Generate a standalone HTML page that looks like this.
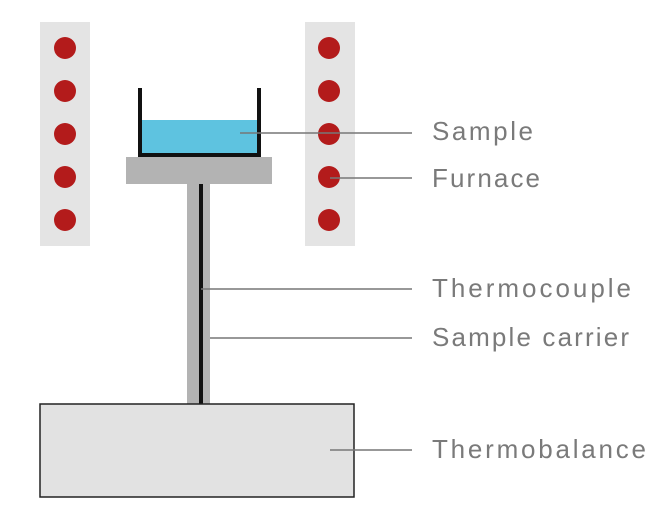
<!DOCTYPE html>
<html><head><style>body{margin:0;background:#fff}</style></head><body>
<svg width="659" height="509" xmlns="http://www.w3.org/2000/svg">
<rect x="40" y="22" width="50" height="224" fill="#e4e4e4"/>
<rect x="305" y="22" width="50" height="224" fill="#e4e4e4"/>
<g fill="#b31b1b">
<circle cx="65" cy="48" r="11"/><circle cx="65" cy="91" r="11"/><circle cx="65" cy="134" r="11"/><circle cx="65" cy="177" r="11"/><circle cx="65" cy="220" r="11"/>
<circle cx="329" cy="48" r="11"/><circle cx="329" cy="91" r="11"/><circle cx="329" cy="134" r="11"/><circle cx="329" cy="177" r="11"/><circle cx="329" cy="220" r="11"/>
</g>
<rect x="142" y="120" width="116" height="34" fill="#5ec3e0"/>
<path d="M140 88 V155 H259 V88" fill="none" stroke="#111" stroke-width="4"/>
<rect x="126" y="157" width="146" height="27" fill="#b3b3b3"/>
<rect x="187" y="184" width="23" height="220" fill="#b3b3b3"/>
<rect x="199" y="184" width="4" height="220" fill="#111"/>
<rect x="40" y="404" width="314" height="93" fill="#e2e2e2" stroke="#222" stroke-width="1.5"/>
<g stroke="#777" stroke-width="1.5">
<line x1="240" y1="133" x2="412" y2="133"/>
<line x1="330" y1="178" x2="412" y2="178"/>
<line x1="201" y1="289" x2="412" y2="289"/>
<line x1="210" y1="338" x2="412" y2="338"/>
<line x1="330" y1="450" x2="412" y2="450"/>
</g>
<g font-family="Liberation Sans, sans-serif" font-size="26" fill="#7a7a7a" lengthAdjust="spacing">
<text x="432" y="140" textLength="101">Sample</text>
<text x="432" y="187" textLength="108">Furnace</text>
<text x="432" y="297" textLength="199">Thermocouple</text>
<text x="432" y="346" textLength="197">Sample carrier</text>
<text x="432" y="458" textLength="214">Thermobalance</text>
</g>
</svg>
</body></html>
